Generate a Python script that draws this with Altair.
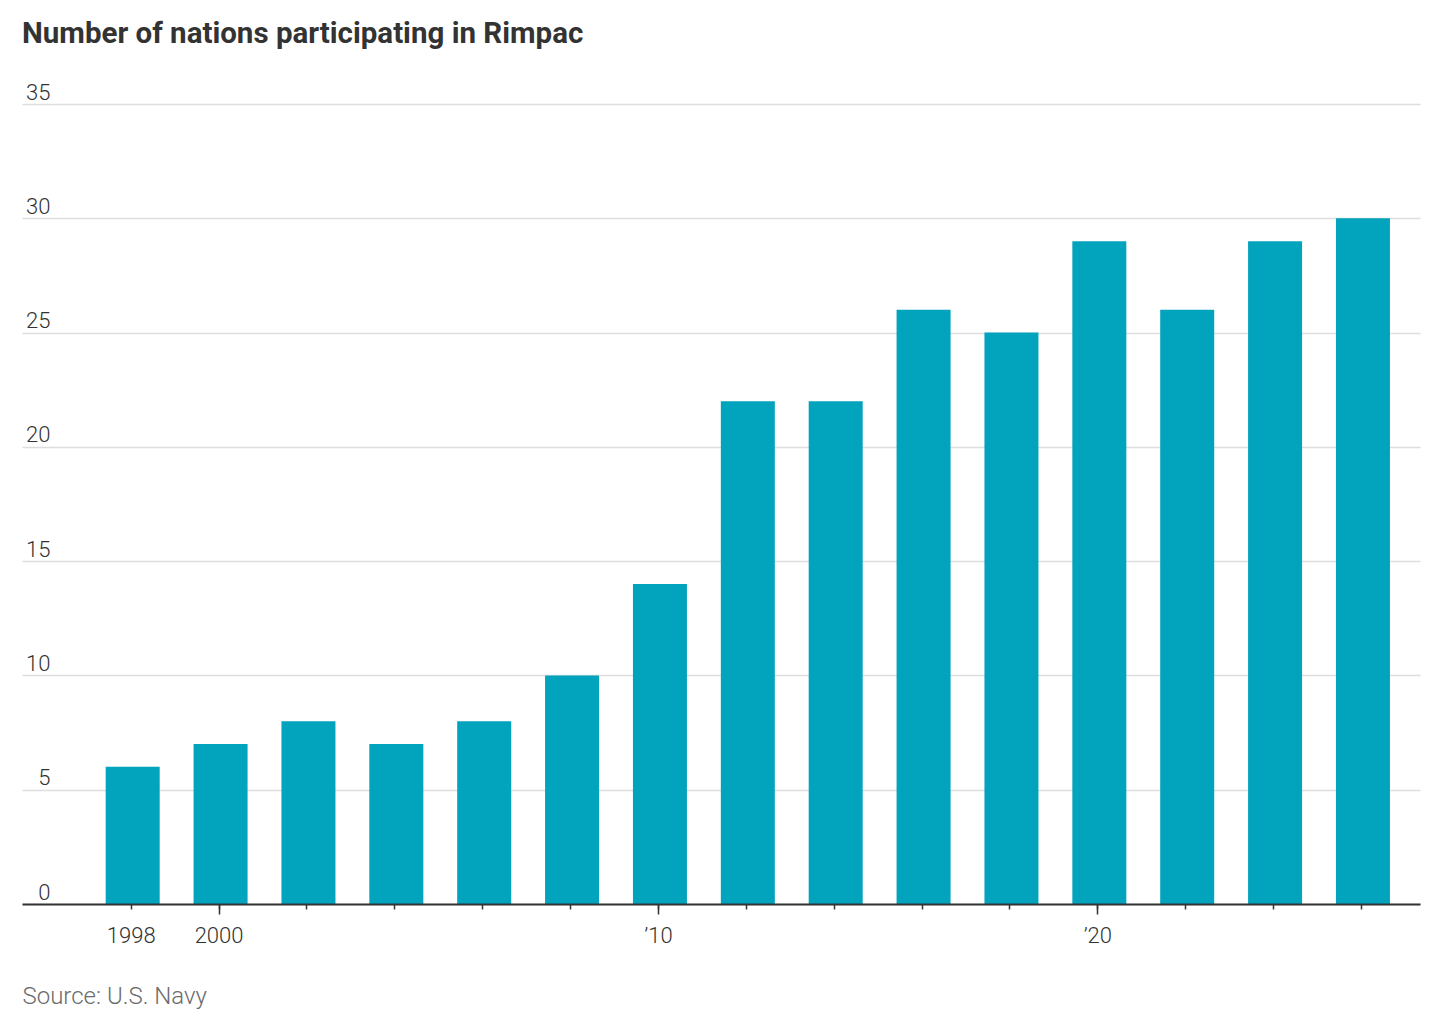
import altair as alt
import pandas as pd

years = [1998, 2000, 2002, 2004, 2006, 2008, 2010, 2012, 2014, 2016, 2018, 2020, 2022, 2024, 2026]
nations = [6, 7, 8, 7, 8, 10, 14, 22, 22, 26, 25, 29, 26, 29, 30]
y_ticks = [0, 5, 10, 15, 20, 25, 30, 35]
minor_ticks = years
major_ticks = [2000, 2010, 2020]
minor_labels = {1998: "1998"}
major_labels = {2000: "2000", 2010: "\u201910", 2020: "\u201920"}

df = pd.DataFrame({"year": years, "nations": nations})


def make_expr(labels):
    return " : ".join(f"datum.value == {k} ? '{v}'" for k, v in labels.items()) + " : ''"


FONT = "Roboto"
x_scale = alt.Scale(domain=[1995.64, 2027.23], nice=False, zero=False)
y_scale = alt.Scale(domain=[0, 35], nice=False)

y_axis = alt.Axis(
    values=y_ticks,
    title=None,
    domain=False,
    ticks=False,
    grid=True,
    gridColor="#dddddd",
    gridWidth=1.3,
    labelAlign="right",
    labelBaseline="alphabetic",
    labelPadding=-28,
    labelOffset=-5,
    labelFont=FONT,
    labelFontSize=22,
    labelFontWeight=300,
    labelColor="#333333",
)

bars = (
    alt.Chart(df)
    .mark_bar(size=54, color="#02A3BC", xOffset=2)
    .encode(
        x=alt.X(
            "year:Q",
            scale=x_scale,
            axis=alt.Axis(
                orient="bottom",
                values=minor_ticks,
                labelExpr=make_expr(minor_labels),
                title="Source: U.S. Navy",
                titleX=0,
                titleY=99,
                titleAlign="left",
                titleAnchor="start",
                titleBaseline="alphabetic",
                titleFont=FONT,
                titleFontSize=24,
                titleFontWeight=300,
                titleColor="#6b6b6b",
                grid=False,
                domainColor="#333333",
                domainWidth=2,
                tickColor="#333333",
                tickWidth=1.5,
                tickSize=5,
                labelPadding=16,
                labelFont=FONT,
                labelFontSize=22,
                labelFontWeight=300,
                labelColor="#333333",
                labelBaseline="top",
                zindex=1,
            ),
        ),
        y=alt.Y("nations:Q", scale=y_scale, axis=y_axis),
    )
)

major = (
    alt.Chart(df)
    .mark_bar(size=54, opacity=0, xOffset=2)
    .encode(
        x=alt.X(
            "year:Q",
            scale=x_scale,
            axis=alt.Axis(
                orient="bottom",
                values=major_ticks,
                labelExpr=make_expr(major_labels),
                title=None,
                grid=False,
                domain=False,
                tickColor="#333333",
                tickWidth=1.5,
                tickSize=10,
                labelPadding=11,
                labelFont=FONT,
                labelFontSize=22,
                labelFontWeight=300,
                labelColor="#333333",
                labelBaseline="top",
                zindex=1,
            ),
        ),
        y=alt.Y("nations:Q", scale=y_scale, axis=y_axis),
    )
)

chart = (
    alt.layer(bars, major)
    .resolve_axis(x="independent")
    .properties(
        width=1398,
        height=800,
        title=alt.TitleParams(
            text="Number of nations participating in Rimpac",
            anchor="start",
            frame="group",
            font=FONT,
            fontSize=29.5,
            fontWeight="bold",
            color="#333333",
            offset=32,
        ),
        autosize=alt.AutoSizeParams(type="none"),
        padding={"left": 14, "top": 96, "right": 20, "bottom": 111},
    )
    .configure_view(stroke=None)
)

chart.save("out.html", embed_options={"renderer": "svg", "actions": False})
